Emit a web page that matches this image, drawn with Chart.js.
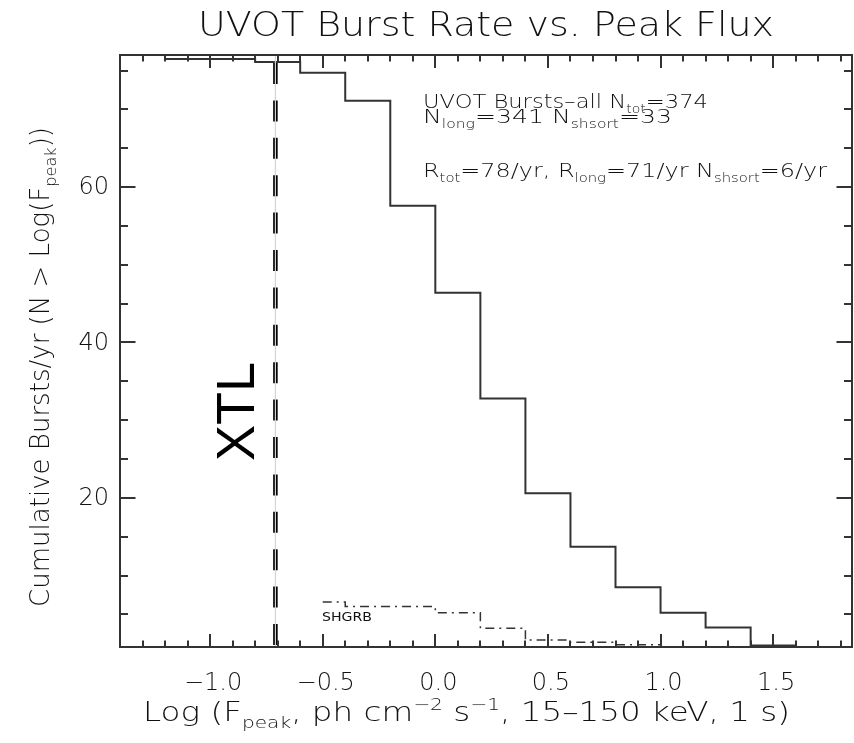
<!DOCTYPE html>
<html>
<head>
<meta charset="utf-8">
<script src="https://cdn.jsdelivr.net/npm/chart.js@4.4.1/dist/chart.umd.min.js"></script>
<style>
    html, body { margin: 0; padding: 0; background: #fff; }
    #wrap { width: 854px; height: 743px; }
</style>
</head>
<body>
<div id="wrap"><canvas id="rateChart" width="854" height="743"></canvas></div>
<script>
// left edge of each log(Fpeak) bin; the last value closes the final step
const binEdges = [-1.4, -1.2, -1.0, -0.8, -0.6, -0.4, -0.2, 0.0, 0.2, 0.4, 0.6, 0.8, 1.0, 1.2, 1.4, 1.6];
const allRate = [77.0, 76.5, 76.5, 76.1, 74.7, 71.1, 57.6, 46.4, 32.8, 20.6, 13.7, 8.5, 5.2, 3.3, 1.0, 1.0];

const shortEdges = [-0.5, -0.4, -0.2, 0.0, 0.2, 0.4, 0.6, 0.8, 1.0];
const shortRate = [6.6, 6.0, 6.0, 5.2, 3.2, 1.7, 1.4, 1.1, 1.1];

const xtlFlux = -0.71;

const xRange = [-1.4, 1.85];
const yRange = [0.8, 77];
const xTickValues = [-1.0, -0.5, 0.0, 0.5, 1.0, 1.5];
const xTickLabels = ['\u22121.0', '\u22120.5', '0.0', '0.5', '1.0', '1.5'];
const yTickValues = [20, 40, 60];
const yTickLabels = ['20', '40', '60'];

const FONT = '"DejaVu Sans", "Liberation Sans", sans-serif';
const INK = '#111';
let fontWeight = '200';

function fontFor(size) {
    return fontWeight + ' ' + size.toFixed(1) + 'px ' + FONT;
}

function richWidth(ctx, parts, size) {
    let w = 0;
    parts.forEach(([t, k]) => {
        ctx.font = fontFor(k ? size * 0.62 : size);
        w += ctx.measureText(t).width;
    });
    return w;
}

// draws text with sub/superscripts, optionally squeezed to a given width
function drawRich(ctx, parts, x, y, size, width) {
    const sx = width ? width / richWidth(ctx, parts, size) : 1;
    ctx.save();
    ctx.translate(x, y);
    ctx.scale(sx, 1);
    ctx.textAlign = 'left';
    ctx.textBaseline = 'alphabetic';
    let cx = 0;
    parts.forEach(([t, k]) => {
        const s = k ? size * 0.62 : size;
        ctx.font = fontFor(s);
        const dy = k === 'sub' ? size * 0.26 : (k === 'sup' ? -size * 0.42 : 0);
        ctx.fillText(t, cx, dy);
        cx += ctx.measureText(t).width;
    });
    ctx.restore();
}

const framePlugin = {
    id: 'idlFrame',
    afterDraw(chart) {
        const ctx = chart.ctx;
        const area = chart.chartArea;
        const xs = chart.scales.x;
        const ys = chart.scales.y;

        ctx.save();
        ctx.fillStyle = INK;
        ctx.strokeStyle = '#333';

        // box
        ctx.lineWidth = 2;
        ctx.strokeRect(area.left, area.top, area.right - area.left, area.bottom - area.top);

        // inward ticks
        ctx.lineWidth = 2;
        ctx.beginPath();
        for (let i = -14; i <= 18; i++) {
            const v = i / 10;
            const px = Math.round(xs.getPixelForValue(v));
            const len = (i % 5 === 0) ? 13 : 6.5;
            ctx.moveTo(px, area.bottom);
            ctx.lineTo(px, area.bottom - len);
            ctx.moveTo(px, area.top);
            ctx.lineTo(px, area.top + len);
        }
        for (let v = 5; v <= 75; v += 5) {
            const py = Math.round(ys.getPixelForValue(v));
            const len = (v % 20 === 0) ? 15.5 : 8;
            ctx.moveTo(area.left, py);
            ctx.lineTo(area.left + len, py);
            ctx.moveTo(area.right, py);
            ctx.lineTo(area.right - len, py);
        }
        ctx.stroke();

        fontWeight = '200';

        // tick labels
        ctx.font = fontFor(24);
        ctx.textBaseline = 'alphabetic';
        ctx.textAlign = 'center';
        xTickValues.forEach((v, i) => {
            ctx.fillText(xTickLabels[i], xs.getPixelForValue(v) + 3, 690);
        });
        ctx.textAlign = 'right';
        ctx.textBaseline = 'middle';
        yTickValues.forEach((v, i) => {
            ctx.fillText(yTickLabels[i], area.left - 11, ys.getPixelForValue(v) + 1);
        });

        // title
        drawRich(ctx, [['UVOT Burst Rate vs. Peak Flux', '']], 198, 36, 34, 576);

        // x axis title
        drawRich(ctx, [
            ['Log (F', ''], ['peak', 'sub'], [', ph cm', ''], ['\u22122', 'sup'],
            [' s', ''], ['\u22121', 'sup'], [', 15\u2013150 keV, 1 s)', '']
        ], 143, 721, 26, 647);

        // y axis title, rotated
        ctx.save();
        ctx.translate(49, 607);
        ctx.rotate(-Math.PI / 2);
        drawRich(ctx, [
            ['Cumulative Bursts/yr (N > Log(F', ''], ['peak', 'sub'], ['))', '']
        ], 0, 0, 26, 480);
        ctx.restore();

        // summary text
        fontWeight = '300';
        drawRich(ctx, [['UVOT Bursts\u2013all N', ''], ['tot', 'sub'], ['=374', '']], 423, 108, 19, 285);
        drawRich(ctx, [['N', ''], ['long', 'sub'], ['=341 N', ''], ['shsort', 'sub'], ['=33', '']], 423, 123, 19, 249);
        drawRich(ctx, [
            ['R', ''], ['tot', 'sub'], ['=78/yr, R', ''], ['long', 'sub'],
            ['=71/yr N', ''], ['shsort', 'sub'], ['=6/yr', '']
        ], 423, 177, 19, 404);

        // short burst label
        fontWeight = '400';
        drawRich(ctx, [['SHGRB', '']], 322, 621, 12.5, 50);

        // XTL marker label
        ctx.save();
        ctx.fillStyle = '#000';
        ctx.translate(xs.getPixelForValue(xtlFlux) - 21, 461);
        ctx.rotate(-Math.PI / 2);
        ctx.font = '54px "Liberation Sans", Arial, sans-serif';
        ctx.textAlign = 'left';
        ctx.textBaseline = 'alphabetic';
        ctx.fillText('XTL', 0, 0);
        ctx.restore();

        ctx.restore();
    }
};

const ctx = document.getElementById('rateChart').getContext('2d');

new Chart(ctx, {
    type: 'line',
    data: {
        datasets: [
            {
                label: 'XTL guide',
                data: [{ x: xtlFlux, y: yRange[1] }, { x: xtlFlux, y: yRange[0] }],
                borderColor: '#d4d4d4',
                borderWidth: 1.2,
                pointRadius: 0
            },
            {
                label: 'XTL',
                data: [{ x: xtlFlux, y: yRange[1] }, { x: xtlFlux, y: yRange[0] }],
                borderColor: '#000',
                borderWidth: 4.5,
                borderDash: [21, 16.4],
                borderDashOffset: 29.4,
                borderCapStyle: 'butt',
                pointRadius: 0
            },
            {
                label: 'All bursts',
                data: binEdges.map((x, i) => ({ x: x, y: allRate[i] })),
                stepped: true,
                borderColor: '#333',
                borderWidth: 2,
                pointRadius: 0
            },
            {
                label: 'SHGRB',
                data: shortEdges.map((x, i) => ({ x: x, y: shortRate[i] })),
                stepped: true,
                borderColor: '#333',
                borderWidth: 1.5,
                borderDash: [9, 5, 2, 5],
                pointRadius: 0
            }
        ]
    },
    options: {
        responsive: false,
        animation: false,
        layout: {
            padding: { left: 120, top: 55, right: 2, bottom: 96 }
        },
        scales: {
            x: { type: 'linear', min: xRange[0], max: xRange[1], display: false },
            y: { type: 'linear', min: yRange[0], max: yRange[1], display: false }
        },
        plugins: {
            legend: { display: false },
            tooltip: { enabled: false }
        }
    },
    plugins: [framePlugin]
});
</script>
</body>
</html>
